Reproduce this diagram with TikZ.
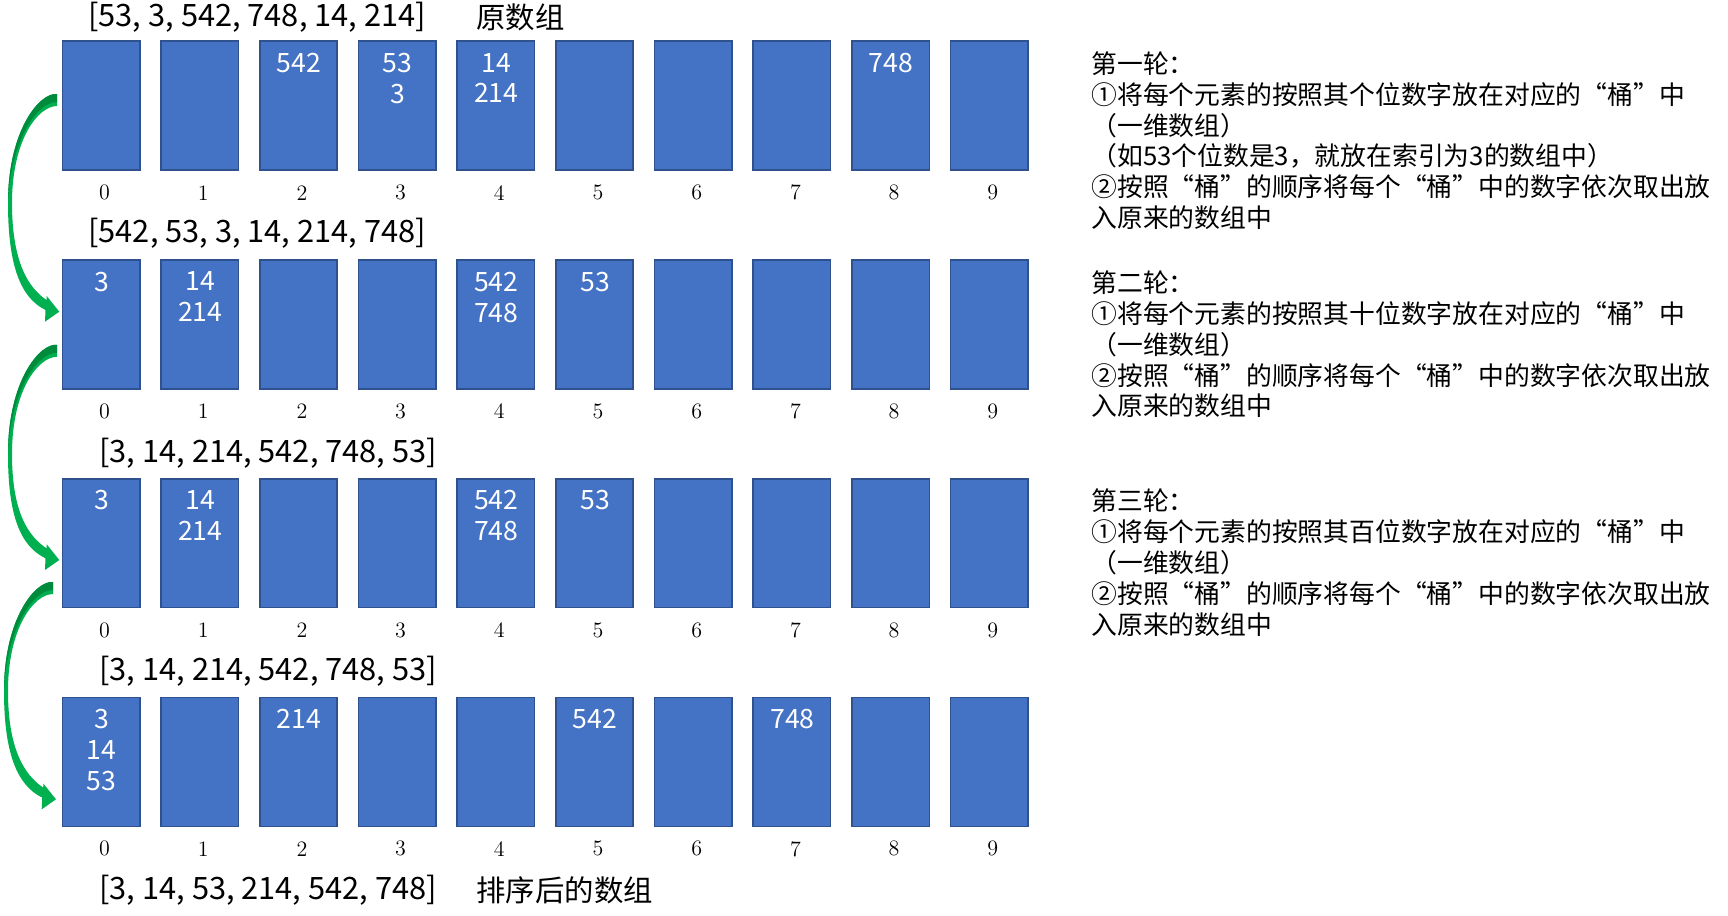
\documentclass[tikz,border=0pt]{standalone}
\usepackage{fontspec}
\usepackage{tikz}
\usetikzlibrary{calc}
\newfontfamily\cjk{Noto Sans CJK SC}
\definecolor{bkblue}{HTML}{4472C4}
\definecolor{bkedge}{HTML}{2F528F}
\definecolor{bkgreen}{HTML}{00B050}
\definecolor{bkdark}{HTML}{008A3C}

\begin{document}
\begin{tikzpicture}[x=0.5pt, y=-0.5pt,
  bucket/.style={draw=bkedge, line width=0.8pt, fill=bkblue, minimum width=38.7pt,
    minimum height=64.45pt, inner sep=0pt, outer sep=0pt, anchor=north west},
  content/.style={font=\cjk\fontsize{13.3}{15.4}\selectfont, text=white, align=center,
    anchor=north, inner sep=0pt},
  idx/.style={font=\fontsize{11}{13}\selectfont, inner sep=0pt},
  arr/.style={font=\cjk\fontsize{15.4}{17}\selectfont, anchor=west, inner sep=0pt},
  arrcn/.style={font=\cjk\fontsize{14.7}{17}\selectfont, anchor=west, inner sep=0pt},
  note/.style={font=\cjk\fontsize{12.9}{15.4}\selectfont, align=left,
    anchor=north west, inner sep=0pt},
  turn/.style={fill=bkgreen},
  turnshade/.style={fill=bkdark}]
  \useasboundingbox (0,0) rectangle (1728,915);

  % Buckets 0..9 for the four passes, index under each bucket
  \foreach \r/\ry in {1/40.5, 2/259.2, 3/477.9, 4/696.6} {
    \foreach \i in {0,...,9} {
      \node[bucket] (b\r-\i) at ({62.3+98.7*\i}, \ry+0.8) {};
      \node[idx] (i\r-\i) at ($(b\r-\i.south)+(3.5,22.5)$) {\i};
    }
  }

  % Numbers sitting in the buckets
  \foreach \r/\i/\txt in {1/2/542, 1/3/{53\\3}, 1/4/{14\\214}, 1/8/748,
                          2/0/3, 2/1/{14\\214}, 2/4/{542\\748}, 2/5/53,
                          3/0/3, 3/1/{14\\214}, 3/4/{542\\748}, 3/5/53,
                          4/0/{3\\14\\53}, 4/2/214, 4/5/542, 4/7/748} {
    \node[content] (c\r-\i) at ($(b\r-\i.north)+(0.5,11.5)$) {\txt};
  }

  % Array state before / after each pass
  \node[arr] (a0) at (88,17.6) {[53, 3, 542, 748, 14, 214]};
  \node[arrcn] (a0n) at (476,17.6) {原数组};
  \node[arr] (a1) at (88,233.6) {[542, 53, 3, 14, 214, 748]};
  \node[arr] (a2) at (99,452.9) {[3, 14, 214, 542, 748, 53]};
  \node[arr] (a3) at (99,671.1) {[3, 14, 214, 542, 748, 53]};
  \node[arr] (a4) at (99,890.4) {[3, 14, 53, 214, 542, 748]};
  \node[arrcn] (a4n) at (476,890.4) {排序后的数组};

  % Green turn arrows: bucket 0 of one pass -> bucket 0 of the next
  \foreach \a/\b/\sx/\sy/\tx/\ty in {1/2/-5.3/58.7/-3/51.7,
                                     2/3/-5.3/90.8/-3/81.3,
                                     3/4/-9.3/109.3/-6.3/101.9} {
    \coordinate (s\a) at ($(b\a-0.north west)+(\sx,\sy)$);
    \coordinate (t\a) at ($(b\b-0.north west)+(\tx,\ty)$);
    \fill[turn] ($(s\a)+(0,-6)$) .. controls ($(s\a)+(-17,-8)$) and ($(s\a)+(-49,30)$) .. ($(s\a)+(-49,103)$)
      .. controls ($(s\a)+(-49,165)$) and ($(t\a)+(-39,-14)$) .. ($(t\a)+(-13.8,-1.7)$)
      -- ($(t\a)+(-14.3,10)$) -- (t\a) -- ($(t\a)+(-12.6,-15.7)$) -- ($(t\a)+(-12.8,-11.7)$)
      .. controls ($(t\a)+(-31,-24)$) and ($(s\a)+(-45,162)$) .. ($(s\a)+(-45,103)$)
      .. controls ($(s\a)+(-45,40)$) and ($(s\a)+(-19,6)$) .. ($(s\a)+(0,6)$) -- cycle;
    \fill[turnshade] ($(s\a)+(0,-6)$) .. controls ($(s\a)+(-17,-8)$) and ($(s\a)+(-49,30)$) .. ($(s\a)+(-49,103)$)
      .. controls ($(s\a)+(-47,45)$) and ($(s\a)+(-22,2)$) .. ($(s\a)+(0,2)$) -- cycle;
  }

  % Notes for each pass
  \node[note] (n1) at (1091,51.2) {第一轮：\\①将每个元素的按照其个位数字放在对应的“桶”中\\（一维数组）\\（如53个位数是3，就放在索引为3的数组中）\\②按照“桶”的顺序将每个“桶”中的数字依次取出放\\入原来的数组中};
  \node[note] (n2) at (1091,270.5) {第二轮：\\①将每个元素的按照其十位数字放在对应的“桶”中\\（一维数组）\\②按照“桶”的顺序将每个“桶”中的数字依次取出放\\入原来的数组中};
  \node[note] (n3) at (1091,488.7) {第三轮：\\①将每个元素的按照其百位数字放在对应的“桶”中\\（一维数组）\\②按照“桶”的顺序将每个“桶”中的数字依次取出放\\入原来的数组中};
\end{tikzpicture}
\end{document}
